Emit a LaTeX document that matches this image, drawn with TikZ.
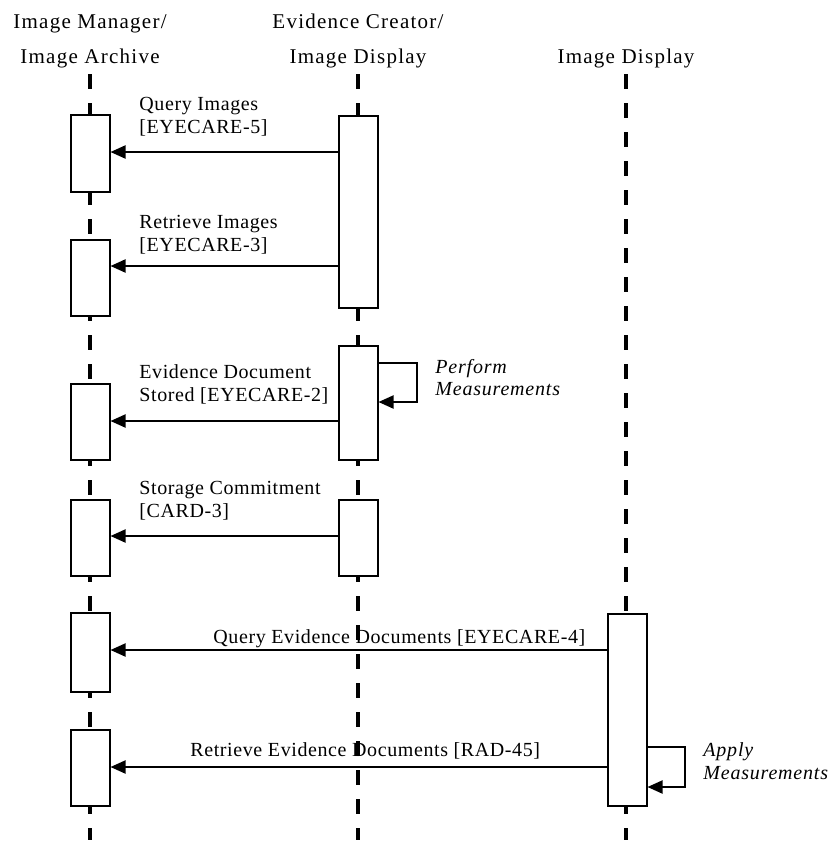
\documentclass[tikz,border=0pt]{standalone}
\usepackage{fontspec}
\setmainfont{Liberation Serif}
\usetikzlibrary{arrows.meta}

\begin{document}
\begin{tikzpicture}[x=0.5pt,y=-0.5pt,
  lifeline/.style={line width=1.75pt,dash pattern=on 7.5pt off 7pt},
  actbox/.style={draw,fill=white,line width=1pt,minimum width=19.5pt,inner sep=0pt,anchor=north},
  msg/.style={line width=1pt,-{Triangle[length=7.5pt,width=6.5pt]}},
  hdr/.style={font=\fontsize{10.5}{12}\selectfont\addfontfeature{LetterSpace=6},inner sep=0pt,anchor=base},
  lbl/.style={font=\fontsize{10}{12}\selectfont\addfontfeature{LetterSpace=3},inner sep=0pt,anchor=base west},
  note/.style={font=\fontsize{10}{12}\selectfont\itshape\addfontfeature{LetterSpace=4},inner sep=0pt,anchor=base west}]
\useasboundingbox (0,0) rectangle (836,841);

% ------------------------------------------------ actors
\node[hdr] (imgr1) at (90,28)  {Image Manager/};
\node[hdr] (imgr2) at (90,63)  {Image Archive};
\node[hdr] (evcr1) at (358,28) {Evidence Creator/};
\node[hdr] (evcr2) at (358,63) {Image Display};
\node[hdr] (imdp1) at (626,63) {Image Display};

% ------------------------------------------------ lifelines
\draw[lifeline] (90,74)  -- (90,840);
\draw[lifeline] (358,74) -- (358,840);
\draw[lifeline] (626,74) -- (626,840);

% ------------------------------------------------ activation boxes
\node[actbox,minimum height=38.5pt] (im1) at (90,114) {};
\node[actbox,minimum height=38pt]   (im2) at (90,239) {};
\node[actbox,minimum height=38pt]   (im3) at (90,383) {};
\node[actbox,minimum height=38pt]   (im4) at (90,499) {};
\node[actbox,minimum height=39.5pt] (im5) at (90,612) {};
\node[actbox,minimum height=38pt]   (im6) at (90,729) {};

\node[actbox,minimum height=96pt]   (ec1) at (358,115) {};
\node[actbox,minimum height=57pt]   (ec2) at (358,345) {};
\node[actbox,minimum height=38pt]   (ec3) at (358,499) {};

\node[actbox,minimum height=96pt]   (id1) at (627,613) {};

% ------------------------------------------------ messages
\coordinate (m1) at (ec1.west |- 0,152);
\coordinate (m2) at (ec1.west |- 0,266);
\coordinate (m3) at (ec2.west |- 0,421);
\coordinate (m4) at (ec3.west |- 0,536);
\coordinate (m5) at (id1.west |- 0,650);
\coordinate (m6) at (id1.west |- 0,767);

\draw[msg] (m1) -- (m1 -| im1.east);
\draw[msg] (m2) -- (m2 -| im2.east);
\draw[msg] (m3) -- (m3 -| im3.east);
\draw[msg] (m4) -- (m4 -| im4.east);
\draw[msg] (m5) -- (m5 -| im5.east);
\draw[msg] (m6) -- (m6 -| im6.east);

% self calls
\coordinate (pm1) at (ec2.east |- 0,363);
\coordinate (pm2) at (ec2.east |- 0,402);
\draw[msg] (pm1) -- (417,363) -- (417,402) -- (pm2);
\coordinate (am1) at (id1.east |- 0,747);
\coordinate (am2) at (id1.east |- 0,787);
\draw[msg] (am1) -- (685,747) -- (685,787) -- (am2);

% ------------------------------------------------ message labels
\node[lbl] (l1a) at (139,110) {Query Images};
\node[lbl] (l1b) at (139,133) {[EYECARE-5]};
\node[lbl] (l2a) at (139,228) {Retrieve Images};
\node[lbl] (l2b) at (139,251) {[EYECARE-3]};
\node[lbl] (l3a) at (139,378) {Evidence Document};
\node[lbl] (l3b) at (139,401) {Stored [EYECARE-2]};
\node[lbl] (l4a) at (139,494) {Storage Commitment};
\node[lbl] (l4b) at (139,517) {[CARD-3]};
\node[lbl] (l5)  at (213,643) {Query Evidence Documents [EYECARE-4]};
\node[lbl] (l6)  at (190,756) {Retrieve Evidence Documents [RAD-45]};

\node[note] (n1a) at (435,373) {Perform};
\node[note] (n1b) at (435,395) {Measurements};
\node[note] (n2a) at (703,756) {Apply};
\node[note] (n2b) at (703,779) {Measurements};

\end{tikzpicture}
\end{document}
